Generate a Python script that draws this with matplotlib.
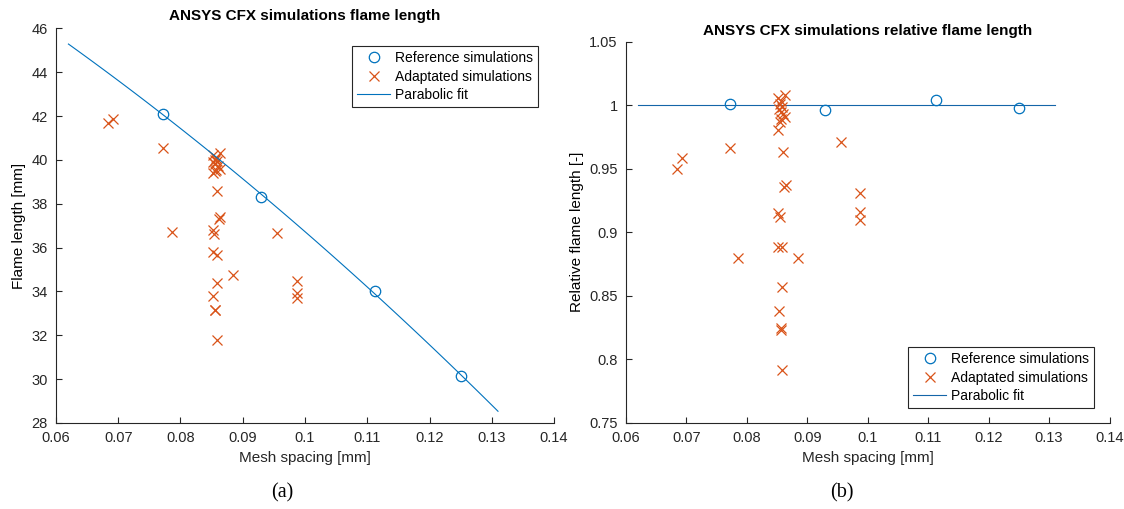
import matplotlib
matplotlib.use('Agg')
import matplotlib.pyplot as plt
import numpy as np
from matplotlib.ticker import FuncFormatter

# reference simulations (mesh spacing [mm], flame length [mm], relative flame length [-])
ref_x = [0.0772, 0.0930, 0.1113, 0.1250]
ref_len = [42.1, 38.3, 34.0, 30.15]
ref_rel = [1.0013, 0.9963, 1.0042, 0.9981]

# adaptated simulations
ad_x = [0.0684, 0.0692, 0.0772, 0.0786, 0.0885, 0.0955,
        0.0987, 0.0987, 0.0987, 0.0859, 0.0862, 0.0864,
        0.0852, 0.0854, 0.0852, 0.0858, 0.0858, 0.0853,
        0.0856, 0.0856, 0.0858,
        0.0863, 0.0852, 0.0857, 0.0855, 0.0858, 0.0853,
        0.0856, 0.0860, 0.0863, 0.0857, 0.0855, 0.0852]
ad_len = [41.70, 41.85, 40.53, 36.71, 34.73, 36.66,
          34.46, 33.93, 33.70, 38.56, 37.30, 37.40,
          36.80, 36.60, 35.78, 35.66, 34.38, 33.77,
          33.13, 33.17, 31.80,
          40.30, 40.20, 40.10, 40.00, 39.95, 39.90,
          39.80, 39.70, 39.60, 39.55, 39.50, 39.40]
ad_rel = [0.9498, 0.9583, 0.9661, 0.8795, 0.8795, 0.9713,
          0.9307, 0.9162, 0.9097, 0.9630, 0.9360, 0.9373,
          0.9150, 0.9118, 0.8887, 0.8887, 0.8572, 0.8383,
          0.8244, 0.8231, 0.7916,
          1.0081, 1.0055, 1.0030, 1.0010, 0.9990, 0.9970,
          0.9950, 0.9930, 0.9910, 0.9890, 0.9870, 0.9806]

fit_range = (0.062, 0.131)

BLUE = '#0072BD'
ORANGE = '#D95319'
AXC = '#262626'

plt.rcParams['font.family'] = ['Liberation Sans', 'DejaVu Sans']
plt.rcParams['font.size'] = 10.5

fig = plt.figure(figsize=(11.24, 5.09), dpi=100)
ax1 = fig.add_axes([0.0498, 0.1690, 0.4431, 0.7754])
ax2 = fig.add_axes([0.5570, 0.1695, 0.4301, 0.7485])

coef = np.polyfit(ref_x, ref_len, 2)
xf = np.linspace(fit_range[0], fit_range[1], 100)

ax1.plot(ref_x, ref_len, 'o', mfc='none', mec=BLUE, ms=7.5, mew=0.9,
         label='Reference simulations', zorder=2)
ax1.plot(ad_x, ad_len, 'x', color=ORANGE, ms=7, mew=0.9,
         label='Adaptated simulations', zorder=3)
ax1.plot(xf, np.polyval(coef, xf), '-', color=BLUE, lw=0.8,
         label='Parabolic fit', zorder=4)
ax1.set_ylim(28, 46)
ax1.set_yticks(np.arange(28, 47, 2))
ax1.set_title('ANSYS CFX simulations flame length', fontweight='bold',
              fontsize=11, pad=6)
ax1.set_ylabel('Flame length [mm]', fontsize=11)

ax2.plot(ref_x, ref_rel, 'o', mfc='none', mec=BLUE, ms=7.5, mew=0.9,
         label='Reference simulations', zorder=2)
ax2.plot(ad_x, ad_rel, 'x', color=ORANGE, ms=7, mew=0.9,
         label='Adaptated simulations', zorder=3)
ax2.plot(fit_range, [1, 1], '-', color='#1565a8', lw=0.8,
         label='Parabolic fit', zorder=1)
ax2.set_ylim(0.75, 1.05)
ax2.set_yticks(np.arange(0.75, 1.051, 0.05))
ax2.set_title('ANSYS CFX simulations relative flame length',
              fontweight='bold', fontsize=11, pad=5)
ax2.set_ylabel('Relative flame length [-]', fontsize=11)

fmt = FuncFormatter(lambda v, p: f'{round(v, 4):g}')
for ax in (ax1, ax2):
    ax.set_xlim(0.06, 0.14)
    ax.set_xticks(np.arange(0.06, 0.1401, 0.01))
    ax.xaxis.set_major_formatter(fmt)
    ax.yaxis.set_major_formatter(fmt)
    ax.set_xlabel('Mesh spacing [mm]', fontsize=11, color=AXC)
    ax.spines['top'].set_visible(False)
    ax.spines['right'].set_visible(False)
    for s in ('left', 'bottom'):
        ax.spines[s].set_color(AXC)
        ax.spines[s].set_linewidth(0.8)
    ax.tick_params(direction='in', length=4, width=0.8, colors=AXC,
                   labelsize=10.5, pad=6)

leg_kw = dict(frameon=True, fancybox=False, framealpha=1, edgecolor=AXC,
              fontsize=10, handlelength=2.4, handletextpad=0.35,
              borderpad=0.35, labelspacing=0.32, borderaxespad=0)
leg1 = ax1.legend(loc='upper right', bbox_to_anchor=(0.968, 0.954), **leg_kw)
leg2 = ax2.legend(loc='lower right', bbox_to_anchor=(0.968, 0.039), **leg_kw)
for leg in (leg1, leg2):
    leg.get_frame().set_linewidth(0.8)

fig.text(0.251, 0.022, '(a)', family='Liberation Serif', fontsize=14.5,
         ha='center')
fig.text(0.749, 0.022, '(b)', family='Liberation Serif', fontsize=14.5,
         ha='center')

fig.savefig('out.png', dpi=100)
